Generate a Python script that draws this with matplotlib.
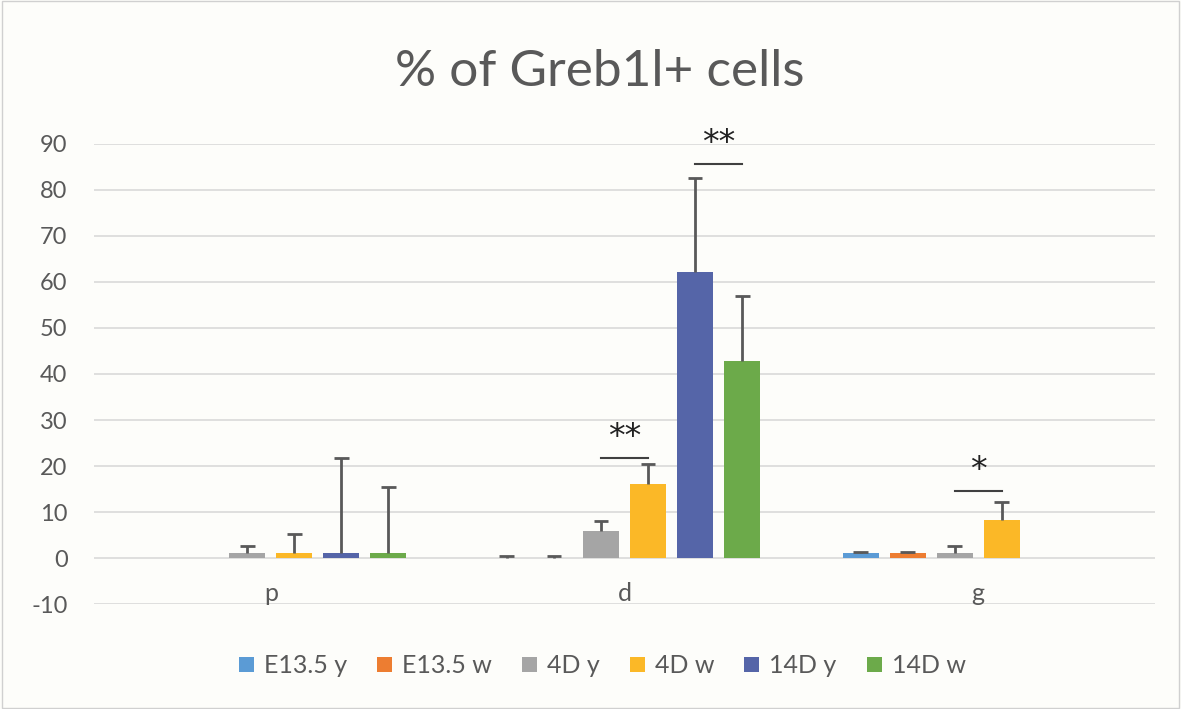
import numpy as np
import matplotlib.pyplot as plt
from matplotlib.patches import Rectangle

categories = ["p", "d", "g"]
series = ["E13.5 y", "E13.5 w", "4D y", "4D w", "14D y", "14D w"]
colors = ["#5B9BD5", "#ED7D31", "#A5A5A5", "#FBB827", "#5565A8", "#6CAA4A"]

# values per series, ordered p, d, g
e135y = [np.nan, 0, 1.0]
e135w = [np.nan, 0, 1.0]
d4y = [1.0, 5.9, 1.0]
d4w = [1.0, 16.0, 8.2]
d14y = [1.0, 62.2, np.nan]
d14w = [1.0, 42.8, np.nan]
values = [e135y, e135w, d4y, d4w, d14y, d14w]

# upper error (sd)
err_e135y = [np.nan, 0.4, 0.3]
err_e135w = [np.nan, 0.4, 0.3]
err_d4y = [1.6, 2.1, 1.6]
err_d4w = [4.3, 4.4, 4.0]
err_d14y = [20.8, 20.5, np.nan]
err_d14w = [14.4, 14.2, np.nan]
errors = [err_e135y, err_e135w, err_d4y, err_d4w, err_d14y, err_d14w]

# significance: (category, bar a, bar b, height, label)
sig = [(1, 2, 3, 21.8, "**"), (1, 4, 5, 85.6, "**"), (2, 2, 3, 14.6, "*")]

txt = "#595959"
plt.rcParams['font.family'] = ['Lato', 'DejaVu Sans']
plt.rcParams['axes.unicode_minus'] = False

fig = plt.figure(figsize=(11.81, 7.09), dpi=100)
fig.patch.set_facecolor("#FDFDFA")
fig.patches.append(Rectangle((0.002, 0.002), 0.996, 0.996, transform=fig.transFigure,
                             fill=False, edgecolor="#D0D0D0", lw=1))
ax = fig.add_axes([0.0796, 0.148, 0.8984, 0.649])
ax.set_facecolor("#FDFDFA")

x = np.arange(len(categories))
step = 0.133
width = 0.102
cap = 0.021
for i, (name, vals, errs, c) in enumerate(zip(series, values, errors, colors)):
    pos = x + (i - 2.5) * step
    vals = np.array(vals)
    top = vals + np.array(errs)
    ax.bar(pos, vals, width, color=c, label=name, zorder=2)
    ax.vlines(pos, vals, top, color="#595959", lw=2, zorder=3)
    ax.hlines(top, pos - cap, pos + cap, color="#595959", lw=2, zorder=3)

for cat, a, b, h, lab in sig:
    xa = x[cat] + (a - 2.5) * step
    xb = x[cat] + (b - 2.5) * step
    ax.plot([xa, xb], [h, h], color="#404040", lw=1.5, zorder=3)
    ax.text((xa + xb) / 2, h + 0.8, lab, ha="center", va="bottom", fontsize=24,
            color="#222222", family="DejaVu Sans")

for xi, c in zip(x, categories):
    ax.text(xi, -7.6, c, ha="center", va="center", fontsize=18, color=txt)

ax.set_xlim(-0.5, 2.5)
ax.set_ylim(-10, 90)
ax.set_yticks(np.arange(-10, 91, 10))
ax.set_xticks([])
ax.grid(axis="y", color="#D9D9D9", lw=1.2, zorder=0)
for s in ax.spines.values():
    s.set_visible(False)
ax.tick_params(axis="y", length=0, labelsize=17, labelcolor=txt, pad=19)

fig.text(0.508, 0.898, "% of Greb1l+ cells", ha="center", va="center", fontsize=37,
         color=txt)
fig.legend(loc="center", bbox_to_anchor=(0.51, 0.061), ncol=6, frameon=False,
           fontsize=18, handlelength=0.6, handleheight=0.6, handletextpad=0.4,
           columnspacing=1.2, labelcolor=txt)

plt.savefig("out.png", dpi=100, facecolor=fig.get_facecolor())
